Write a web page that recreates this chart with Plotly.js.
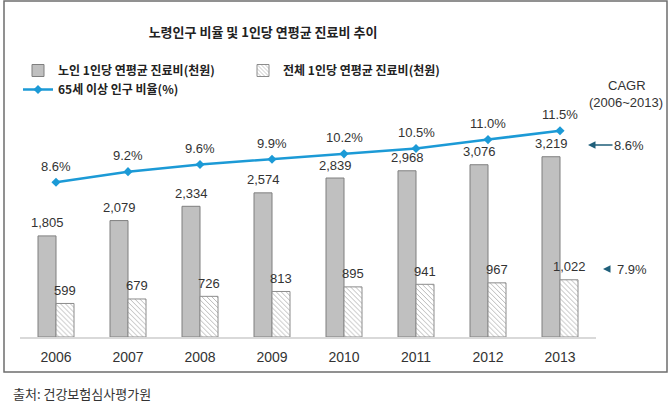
<!DOCTYPE html>
<html><head><meta charset="utf-8">
<script src="https://cdn.plot.ly/plotly-3.0.1.min.js"></script>
<style>html,body{margin:0;padding:0;background:#fff}#chart{width:672px;height:408px}</style>
</head><body><div id="chart"></div>
<script>
const years = ['2006','2007','2008','2009','2010','2011','2012','2013'];
const elderCost = [1805, 2079, 2334, 2574, 2839, 2968, 3076, 3219];
const totalCost = [599, 679, 726, 813, 895, 941, 967, 1022];
const elderRatio = [8.6, 9.2, 9.6, 9.9, 10.2, 10.5, 11.0, 11.5];
const seriesNames = ['노인 1인당 연평균 진료비(천원)', '전체 1인당 연평균 진료비(천원)', '65세 이상 인구 비율(%)'];
const cagrLabels = ['8.6%', '7.9%'];

const L = 20, R = 596, T = 100, B = 337, W = 672, H = 408;
const toPx = x => (x - L) / (R - L);
const toPy = y => (B - y) / (B - T);
const fmt = v => v.toLocaleString('en-US');
const pos = years.map((_, i) => i);

const numFont = {family: 'Liberation Sans, Arial, sans-serif', size: 13, color: '#333'};
const krFont = 'Noto Sans CJK KR, sans-serif';

const traces = [
  {type: 'bar', x: pos, y: elderCost, name: '<b>' + seriesNames[0] + '</b>',
   marker: {color: '#c0c0c0', line: {color: '#7f7f7f', width: 1}}, hoverinfo: 'skip'},
  {type: 'bar', x: pos, y: totalCost, name: '<b>' + seriesNames[1] + '</b>',
   marker: {color: '#ffffff', line: {color: '#8c8c8c', width: 1},
            pattern: {shape: '\\', fgcolor: '#b0b0b0', bgcolor: '#ffffff', size: 3.5, solidity: 0.25}}, hoverinfo: 'skip'},
  {type: 'scatter', mode: 'lines+markers', x: pos, y: elderRatio, yaxis: 'y2',
   name: '<b>' + seriesNames[2] + '</b>',
   line: {color: '#1c9ad6', width: 2.5}, marker: {symbol: 'diamond', size: 7, color: '#1c9ad6'}, hoverinfo: 'skip'}
];

const annotations = [];
pos.forEach(i => {
  annotations.push({x: i, y: elderCost[i], xref: 'x', yref: 'y', text: fmt(elderCost[i]),
    showarrow: false, xshift: -9, yshift: 13, xanchor: 'center', yanchor: 'middle', font: numFont});
  annotations.push({x: i, y: totalCost[i], xref: 'x', yref: 'y', text: fmt(totalCost[i]),
    showarrow: false, xshift: 9, yshift: 13, xanchor: 'center', yanchor: 'middle', font: numFont});
  annotations.push({x: i, y: elderRatio[i], xref: 'x', yref: 'y2', text: elderRatio[i].toFixed(1) + '%',
    showarrow: false, yshift: 16, xanchor: 'center', yanchor: 'middle', font: numFont});
});
annotations.push({xref: 'paper', yref: 'paper', x: toPx(627), y: toPy(85), text: 'CAGR',
  showarrow: false, xanchor: 'center', yanchor: 'middle', font: numFont});
annotations.push({xref: 'paper', yref: 'paper', x: toPx(626), y: toPy(102), text: '(2006~2013)',
  showarrow: false, xanchor: 'center', yanchor: 'middle', font: numFont});
annotations.push({xref: 'paper', yref: 'paper', x: toPx(588), y: toPy(145), text: cagrLabels[0],
  showarrow: true, ax: 41, ay: 0, arrowhead: 2, arrowsize: 1, arrowwidth: 1.5,
  arrowcolor: '#1f5f7a', font: numFont});
annotations.push({xref: 'paper', yref: 'paper', x: toPx(603), y: toPy(269), text: cagrLabels[1],
  showarrow: true, ax: 29, ay: 0, arrowhead: 2, arrowsize: 1, arrowwidth: 1.5, startstandoff: 9,
  arrowcolor: '#1f5f7a', font: numFont});
annotations.push({xref: 'paper', yref: 'paper', x: toPx(11), y: toPy(393), xanchor: 'left', yanchor: 'middle',
  text: '출처: 건강보험심사평가원', showarrow: false, font: {family: krFont, size: 13, color: '#333'}});

const layout = {
  width: W, height: H,
  margin: {l: L, r: W - R, t: T, b: H - B, pad: 0},
  paper_bgcolor: '#fff', plot_bgcolor: '#fff',
  title: {text: '<b>노령인구 비율 및 1인당 연평균 진료비 추이</b>', x: 263 / W, xanchor: 'center',
          y: 1 - 32 / H, yanchor: 'middle', font: {family: krFont, size: 13, color: '#222'}},
  barmode: 'group', bargap: 0.5, bargroupgap: 0,
  showlegend: true,
  legend: {orientation: 'h', x: toPx(18), xanchor: 'left', y: toPy(56), yanchor: 'top',
           entrywidth: 180, entrywidthmode: 'pixels', traceorder: 'normal',
           font: {family: krFont, size: 12, color: '#222'}, bgcolor: 'rgba(0,0,0,0)'},
  xaxis: {type: 'linear', range: [-0.5, years.length - 0.5], tickmode: 'array', tickvals: pos, ticktext: years,
          showline: true, linecolor: '#d9d9d9', linewidth: 2, ticks: '',
          showgrid: false, zeroline: false, tickfont: {family: 'Liberation Sans, Arial, sans-serif', size: 14, color: '#333'},
          ticklabelstandoff: 6},
  yaxis: {range: [0, (B - T) / 0.056], showgrid: false, zeroline: false, showticklabels: false, showline: false},
  yaxis2: {range: [-0.09, -0.09 + (B - T) / 17.8], overlaying: 'y', side: 'right', showgrid: false,
           zeroline: false, showticklabels: false, showline: false},
  shapes: [{type: 'rect', xref: 'paper', yref: 'paper', x0: toPx(4), x1: toPx(667), y0: toPy(1), y1: toPy(372),
            line: {color: '#6e6e6e', width: 1.5}, fillcolor: 'rgba(0,0,0,0)', layer: 'below'}],
  annotations: annotations
};

Plotly.newPlot('chart', traces, layout, {displayModeBar: false, staticPlot: true});
</script></body></html>
